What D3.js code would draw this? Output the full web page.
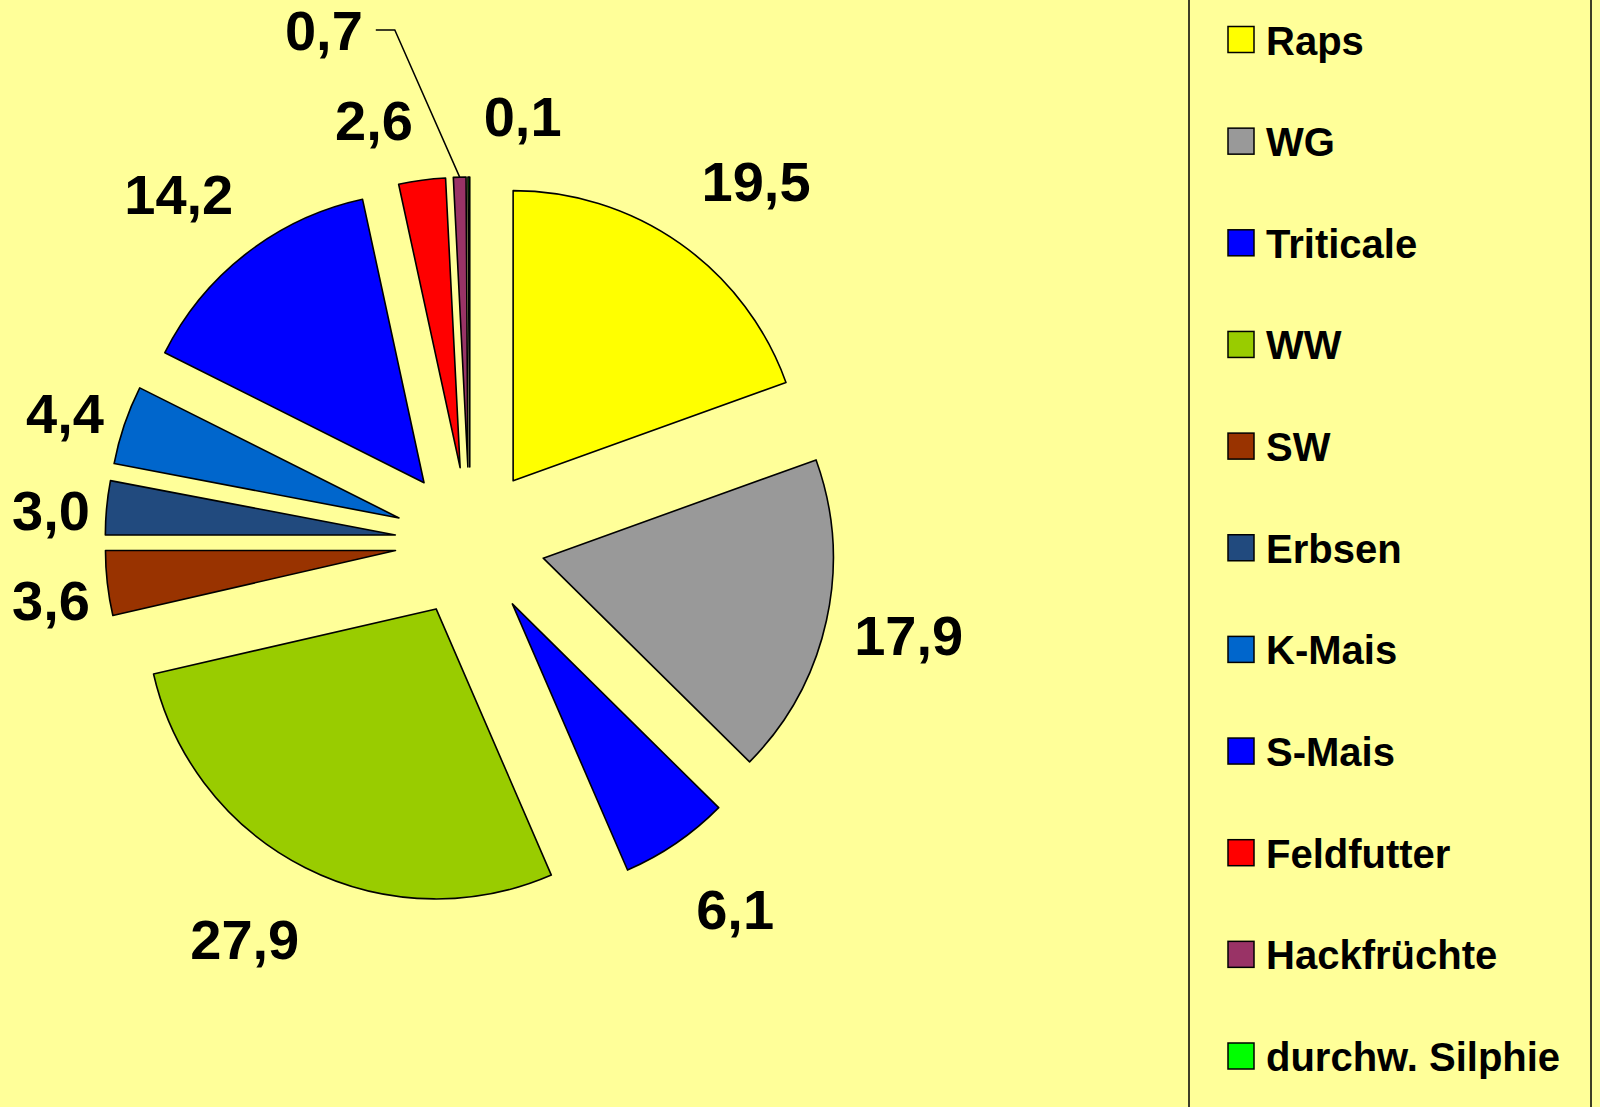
<!DOCTYPE html>
<html>
<head>
<meta charset="utf-8">
<script src="https://cdn.jsdelivr.net/npm/d3@7"></script>
<style>
  body { margin: 0; background: #FFFF99; }
  svg { display: block; }
</style>
</head>
<body>
<div id="chart"></div>
<script>
// crop shares in percent, clockwise from 12 o'clock
var crops = ["Raps", "WG", "Triticale", "WW", "SW", "Erbsen", "K-Mais", "S-Mais", "Feldfutter", "Hackfrüchte", "durchw. Silphie"];
var shares = [19.5, 17.9, 6.1, 27.9, 3.6, 3.0, 4.4, 14.2, 2.6, 0.7, 0.1];
var shareLabels = ["19,5", "17,9", "6,1", "27,9", "3,6", "3,0", "4,4", "14,2", "2,6", "0,7", "0,1"];

var colors = ["#FFFF00", "#999999", "#0000FF", "#99CC00", "#993300", "#214A7E", "#0066CC", "#0000FF", "#FF0000", "#993366", "#00FF00"];

var width = 1600, height = 1107;
var cx = 470, cy = 542, radius = 290, explode = 75;
var labelGap = 43;

// manual label nudges, like dragged labels in the original
var labelNudge = {
  "Raps": [24, 12], "WG": [-16, -7], "Triticale": [13, -2], "WW": [-22, -5],
  "SW": [0, 7], "Erbsen": [0, 10], "K-Mais": [14, 16], "S-Mais": [-11, 13],
  "Feldfutter": [-39, 7], "Hackfrüchte": [-134, -83], "durchw. Silphie": [54, 2]
};
var leaderFor = "Hackfrüchte";

var data = crops.map(function(c, i) {
  return {crop: c, value: shares[i], label: shareLabels[i], color: colors[i]};
});

var svg = d3.select("#chart").append("svg")
  .attr("width", width)
  .attr("height", height);

svg.append("rect")
  .attr("width", width)
  .attr("height", height)
  .attr("fill", "#FFFF99");

var pie = d3.pie().sort(null).value(function(d) { return d.value; });
var arc = d3.arc().innerRadius(0).outerRadius(radius);
var arcs = pie(data);

function mid(a) { return (a.startAngle + a.endAngle) / 2; }

var g = svg.append("g").attr("transform", "translate(" + cx + "," + cy + ")");

g.selectAll("path.slice")
  .data(arcs)
  .join("path")
    .attr("class", "slice")
    .attr("transform", function(d) {
      var m = mid(d);
      return "translate(" + (explode * Math.sin(m)) + "," + (-explode * Math.cos(m)) + ")";
    })
    .attr("d", arc)
    .attr("fill", function(d) { return d.data.color; })
    .attr("stroke", "#000")
    .attr("stroke-width", 1.6)
    .attr("stroke-linejoin", "round");

// value labels
var fontSize = 56, capH = fontSize * 0.716;
g.selectAll("text.val")
  .data(arcs)
  .join("text")
    .attr("class", "val")
    .attr("text-anchor", "middle")
    .attr("font-family", "'Liberation Sans', Arial, sans-serif")
    .attr("font-weight", "bold")
    .attr("font-size", fontSize)
    .attr("fill", "#000")
    .text(function(d) { return d.data.label; })
    .each(function(d) {
      var t = d3.select(this);
      var w = this.getComputedTextLength();
      var m = mid(d), s = Math.sin(m), c = -Math.cos(m);
      var ext = Math.abs(s) * w / 2 + Math.abs(c) * capH / 2;
      var dist = radius + explode + labelGap + ext;
      var x = dist * s, y = dist * c;
      // keep labels inside the chart area on the left
      if (cx + x - w / 2 < 12) x = 12 + w / 2 - cx;
      var n = labelNudge[d.data.crop] || [0, 0];
      x += n[0]; y += n[1];
      t.attr("x", x).attr("y", y + capH / 2);
      if (d.data.crop === leaderFor) {
        var ex = (radius + explode) * s, ey = (radius + explode) * c;
        var sx = x + w / 2 + 13;
        g.append("path")
          .attr("d", "M" + sx + "," + y + "H" + (sx + 19) + "L" + ex + "," + ey)
          .attr("fill", "none")
          .attr("stroke", "#000")
          .attr("stroke-width", 1.5);
      }
    });

// legend
var legX = 1189, legTop = 39.5, legStep = 101.65;
svg.append("rect")
  .attr("x", legX)
  .attr("y", -10)
  .attr("width", 402)
  .attr("height", height + 20)
  .attr("fill", "#FFFF99")
  .attr("stroke", "#000")
  .attr("stroke-width", 1.5);

var item = svg.append("g").selectAll("g")
  .data(data)
  .join("g")
    .attr("transform", function(d, i) { return "translate(0," + (legTop + i * legStep) + ")"; });

item.append("rect")
  .attr("x", 1228)
  .attr("y", -13)
  .attr("width", 26)
  .attr("height", 26)
  .attr("fill", function(d) { return d.color; })
  .attr("stroke", "#000")
  .attr("stroke-width", 1.5);

item.append("text")
  .attr("x", 1266)
  .attr("y", 15)
  .attr("font-family", "'Liberation Sans', Arial, sans-serif")
  .attr("font-weight", "bold")
  .attr("font-size", 40)
  .attr("fill", "#000")
  .text(function(d) { return d.crop; });
</script>
</body>
</html>
